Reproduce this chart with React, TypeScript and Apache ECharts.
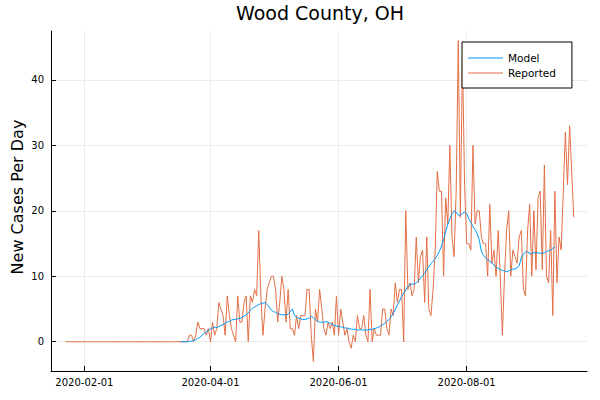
import React, { useEffect, useRef } from 'react';
import * as echarts from 'echarts';

const DAY = 86400000;
const FONT = 'DejaVu Sans';

// daily reported cases, starting 2020-01-23
const reportedStart = '2020-01-23';
const reported = [
  0, 0, 0, 0, 0, 0, 0, 0, 0, 0, 0, 0, 0, 0, 0, 0, 0, 0, 0, 0,
  0, 0, 0, 0, 0, 0, 0, 0, 0, 0, 0, 0, 0, 0, 0, 0, 0, 0, 0, 0,
  0, 0, 0, 0, 0, 0, 0, 0, 0, 0, 0, 0, 0, 0, 0, 0, 0, 0,
  0, 1, 1, 0, 1, 3, 2, 2, 2, 1, 2, 0,
  3, 1, 2, 6, 5, 4, 1, 7, 4, 2,
  1, 0, 7, 3, 3, 6, 7, 0, 7, 6,
  8, 7, 17, 7, 1, 5, 8, 9, 10, 10,
  8, 3, 6, 10, 8, 3, 8, 2, 2, 1,
  4, 2, 4, 4, 4, 8, 8, 1, -3, 5,
  3, 8, 5, 2, 1, 3, 2, 3, 1, 7,
  1, 5, 3, 1, 2, 0, -1, 1, 0, 4,
  2, 2, 4, 1, 0, 8, 0, 2, 1, 1,
  1, 5, 5, 2, 1, 5, 4, 9, 6, 8,
  8, 0, 20, 8, 9, 7, 8, 16, 9, 13,
  14, 6, 16, 5, 4, 8, 14, 26, 23, 23,
  10, 22, 18, 30, 16, 13, 23, 46, 19, 44,
  24, 15, 15, 14, 30, 18, 20, 20, 16, 15,
  15, 10, 21, 12, 14, 10, 17, 10, 1, 10,
  17, 20, 10, 14, 13, 12, 16, 17, 8, 7,
  17, 21, 10, 20, 11, 22, 23, 11, 27, 10,
  9, 17, 4, 23, 9, 16, 14, 23, 32, 24,
  33, 26, 19,
];

// model estimate, starting 2020-03-18
const modelStart = '2020-03-18';
const model = [
  0.0, 0.0, 0.0, 0.0, 0.05, 0.1, 0.2, 0.3, 0.5, 0.7,
  1.0, 1.3, 1.5, 1.7, 2.0, 2.1, 2.2, 2.2, 2.3, 2.5,
  2.6, 2.8, 3.0, 3.1, 3.3, 3.4, 3.4, 3.5, 3.6, 3.7,
  3.9, 4.1, 4.4, 4.8, 5.1, 5.3, 5.5, 5.7, 5.8, 5.9,
  6.0, 5.7, 5.3, 4.8, 4.6, 4.5, 4.3, 4.2, 4.1, 4.1,
  4.1, 4.2, 4.6, 5.0, 4.1, 3.7, 3.6, 3.5, 3.4, 3.4,
  3.5, 3.6, 3.9, 3.7, 3.4, 3.1, 3.0, 3.0, 2.9, 3.1,
  3.0, 2.8, 2.6, 2.5, 2.4, 2.3, 2.3, 2.2, 2.1, 2.1,
  2.0, 1.9, 1.9, 1.9, 1.8, 1.8, 1.8, 1.8, 1.8, 1.8,
  1.9, 1.9, 2.0, 2.1, 2.2, 2.4, 2.6, 2.8, 3.1, 3.4,
  3.8, 4.3, 4.9, 5.6, 6.2, 6.9, 7.4, 7.9, 8.4, 8.8,
  8.8, 8.8, 9.0, 9.3, 9.7, 10.1, 10.5, 11.0, 11.5, 11.9,
  12.3, 12.7, 13.2, 13.8, 14.6, 15.6, 16.8, 17.9, 18.8, 19.5,
  20.0, 19.8, 19.3, 19.4, 19.6, 19.8, 19.6, 18.8, 18.2, 17.6,
  17.1, 16.5, 15.5, 13.8, 13.2, 12.8, 12.5, 12.3, 12.0, 11.7,
  11.4, 11.2, 11.0, 10.9, 10.8, 10.7, 10.8, 11.0, 11.1, 11.1,
  11.3, 11.6, 12.8, 13.4, 13.7, 13.8, 13.4, 13.5, 13.6, 13.6,
  13.6, 13.5, 13.5, 13.6, 13.8, 13.9, 14.0, 14.3, 14.4,
];

const xTicks = ['2020-02-01', '2020-04-01', '2020-06-01', '2020-08-01'];
const yTicks = [0, 10, 20, 30, 40];
const xRange = ['2020-01-16T02:00:00Z', '2020-09-27T07:00:00Z'];
const yRange = [-4.47, 47.47];

const toSeries = (start: string, values: number[]) => {
  const t0 = Date.parse(start);
  return values.map((v, i) => [t0 + i * DAY, v]);
};

const App: React.FC = () => {
  const chartRef = useRef<HTMLDivElement>(null);

  useEffect(() => {
    if (!chartRef.current) return;
    const chart = echarts.init(chartRef.current, null, { renderer: 'svg' });

    const gridLine = { show: true, lineStyle: { color: '#ebebeb', width: 1 } };
    const axisLine = { show: true, onZero: false, lineStyle: { color: '#000', width: 1 } };

    const option: any = {
      animation: false,
      backgroundColor: '#fff',
      grid: {
        left: 51,
        right: 13,
        top: 31,
        bottom: 29,
        containLabel: false,
        outerBoundsMode: 'none',
      },
      graphic: [
        {
          type: 'text',
          x: 320,
          y: 13,
          style: {
            text: 'Wood County, OH',
            font: `19px "${FONT}"`,
            fill: '#000',
            align: 'center',
            verticalAlign: 'middle',
          },
        },
        {
          type: 'text',
          x: 17,
          y: 197,
          rotation: Math.PI / 2,
          style: {
            text: 'New Cases Per Day',
            font: `16px "${FONT}"`,
            fill: '#000',
            align: 'center',
            verticalAlign: 'middle',
          },
        },
      ],
      legend: {
        data: ['Model', 'Reported'],
        orient: 'vertical',
        left: 462,
        top: 42,
        icon: 'rect',
        itemWidth: 35,
        itemHeight: 1.2,
        itemGap: 3,
        padding: [10, 16, 9, 6],
        borderColor: '#000',
        borderWidth: 1,
        borderRadius: 0,
        backgroundColor: '#fff',
        textStyle: { fontFamily: FONT, fontSize: 10.5, lineHeight: 12, color: '#000' },
      },
      xAxis: {
        type: 'value',
        min: Date.parse(xRange[0]),
        max: Date.parse(xRange[1]),
        axisLine,
        axisTick: {
          show: true,
          inside: true,
          length: 5,
          lineStyle: { color: '#000' },
          customValues: xTicks.map((d) => Date.parse(d)),
        },
        axisLabel: {
          color: '#000',
          fontFamily: FONT,
          fontSize: 10,
          margin: 6,
          hideOverlap: false,
          customValues: xTicks.map((d) => Date.parse(d)),
          formatter: (v: number) => new Date(v).toISOString().slice(0, 10),
        },
        splitLine: gridLine,
      },
      yAxis: {
        type: 'value',
        min: yRange[0],
        max: yRange[1],
        axisLine,
        axisTick: {
          show: true,
          inside: true,
          length: 5,
          lineStyle: { color: '#000' },
          customValues: yTicks,
        },
        axisLabel: {
          color: '#000',
          fontFamily: FONT,
          fontSize: 10,
          margin: 7,
          customValues: yTicks,
        },
        splitLine: gridLine,
      },
      series: [
        {
          name: 'Reported',
          type: 'line',
          symbol: 'none',
          data: toSeries(reportedStart, reported),
          lineStyle: { color: '#E36F47', width: 1 },
          itemStyle: { color: '#E36F47' },
          z: 2,
        },
        {
          name: 'Model',
          type: 'line',
          symbol: 'none',
          data: toSeries(modelStart, model),
          lineStyle: { color: '#009AFA', width: 1 },
          itemStyle: { color: '#009AFA' },
          z: 3,
        },
      ],
    };

    chart.setOption(option);

    return () => {
      chart.dispose();
    };
  }, []);

  return (
    <div
      ref={chartRef}
      style={{ position: 'fixed', left: 0, top: 0, width: '600px', height: '400px' }}
    />
  );
};

export default App;
